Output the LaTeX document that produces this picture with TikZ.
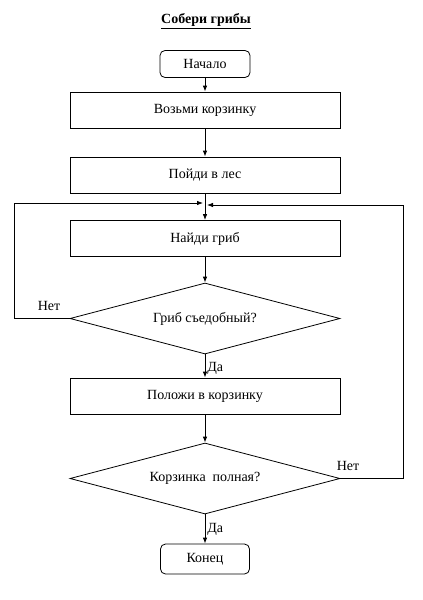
\documentclass[tikz,border=0pt]{standalone}
\usepackage{fontspec}
\setmainfont{Liberation Serif}
\usetikzlibrary{shapes.geometric,arrows.meta}
\begin{document}
\begin{tikzpicture}[x=1pt,y=-1pt,
  font=\fontsize{14}{16}\selectfont,
  every path/.style={line width=0.8pt},
  proc/.style={draw, rectangle, minimum width=270pt, minimum height=36pt, inner sep=0pt},
  term/.style={draw, rectangle, rounded corners=5pt, minimum width=90pt, minimum height=27pt, inner sep=0pt},
  decide/.style={draw, diamond, aspect=3.8, minimum width=270pt, minimum height=71pt, inner sep=0pt},
  arr/.style={-{Latex[length=6pt,width=4.5pt]}},
  lbl/.style={inner sep=1pt}]
\useasboundingbox (0,0) rectangle (423,600);
\node[font=\fontsize{14}{16}\selectfont\bfseries] (title) at (206,21) {\underline{Собери грибы}};
\node[term] (start) at (205,64) {Начало};
\node[proc] (take) at (205,110) {Возьми корзинку};
\node[proc] (go) at (205,175) {Пойди в лес};
\node[proc] (find) at (205,238.5) {Найди гриб};
\node[decide] (edible) at (205,318.5) {Гриб съедобный?};
\node[proc] (put) at (205,396) {Положи в корзинку};
\node[decide] (full) at (205,478.5) {Корзинка\ \ полная?};
\node[term, minimum width=89pt, minimum height=30pt] (end) at (205,559) {Конец};

\coordinate (jl) at (203,203);
\coordinate (jr) at (207,205);
\coordinate (lb) at (14,318.5);
\coordinate (lt) at (14,203);
\coordinate (rb) at (403,478.5);
\coordinate (rt) at (403,205);

\draw[arr] (start) -- (take);
\draw[arr] (take) -- (go);
\draw[arr] (go) -- (find);
\draw[arr] (find) -- (edible);
\draw[arr] (edible) -- node[lbl, right=1pt, pos=0.6] (yes1) {Да} (put);
\draw[arr] (put) -- (full);
\draw[arr] (full) -- node[lbl, right=1pt, pos=0.5] (yes2) {Да} (end);
\draw[arr] (edible.west) -- (lb) -- (lt) -- (jl);
\draw[arr] (full.east) -- (rb) -- (rt) -- (jr);
\node[lbl] (no1) at (49,306) {Нет};
\node[lbl] (no2) at (348,466) {Нет};
\end{tikzpicture}
\end{document}
